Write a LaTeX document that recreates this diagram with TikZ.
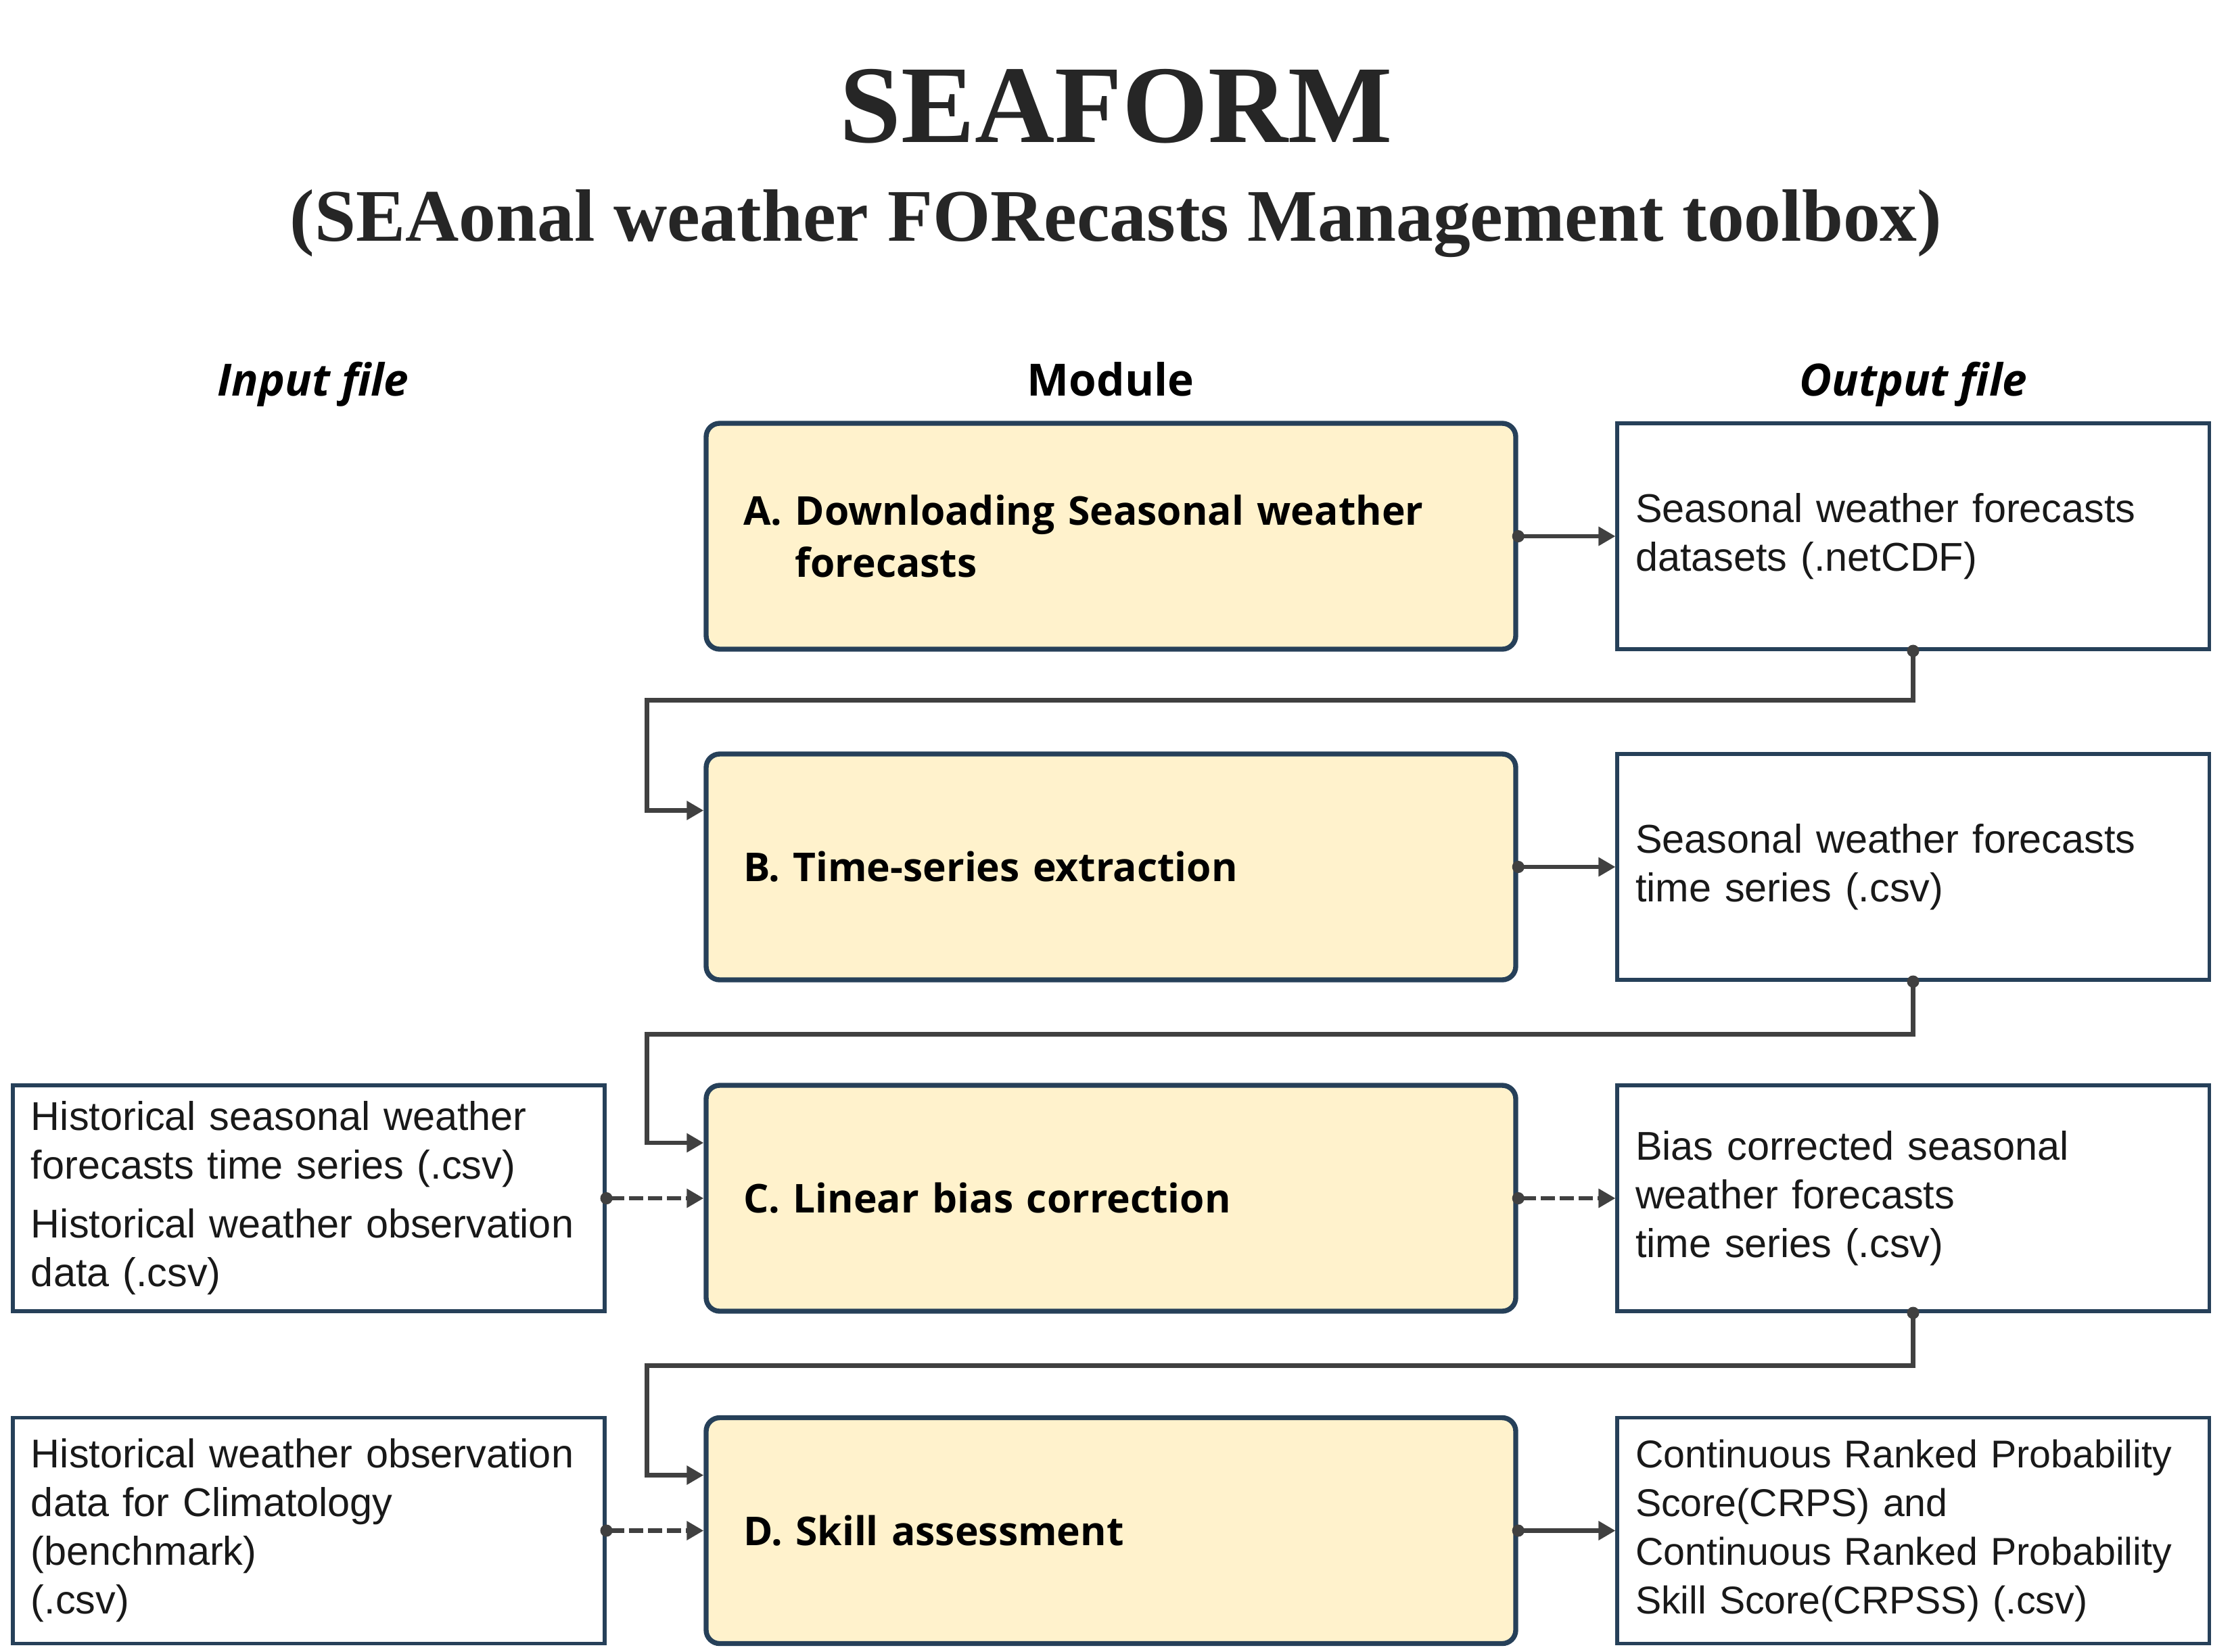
\documentclass[tikz,border=0pt]{standalone}
\usepackage{fontspec}
\setmainfont{Liberation Sans}
\newfontfamily\headfont{Liberation Serif}
\newfontfamily\modfont{Open Sans}
\usetikzlibrary{arrows.meta}

\definecolor{boxline}{RGB}{38,64,89}
\definecolor{modfill}{RGB}{255,242,204}
\definecolor{linkgray}{RGB}{64,64,64}
\definecolor{titlegray}{RGB}{38,38,38}

\tikzset{
  module/.style={draw=boxline, line width=2.1pt, fill=modfill, rounded corners=0.2cm,
    minimum height=3.34cm, text width=10.87cm, inner xsep=0.55cm, align=left,
    font=\modfont\bfseries\fontsize{16.7}{22}\selectfont},
  filebox/.style={draw=boxline, line width=1.45pt, fill=white, minimum height=3.34cm,
    text width=8.21cm, inner xsep=0.27cm, align=left, text=black!90,
    font=\fontsize{16.9}{20.5}\selectfont},
  colhead/.style={anchor=base, font=\modfont\bfseries\fontsize{18.7}{22}\selectfont},
  flow/.style={draw=linkgray, line width=1.85pt, shorten <=-0.09cm,
    {Circle[length=0.18cm,width=0.18cm]}-{Triangle[length=0.25cm,width=0.27cm]}},
  optional/.style={flow, dash pattern=on 0.21cm off 0.07cm}
}

\begin{document}
\begin{tikzpicture}
  \useasboundingbox (0,0) rectangle (33,-24.42);

  % title
  \node[anchor=base, text=titlegray, font=\headfont\bfseries\fontsize{46.5}{50}\selectfont] (title) at (16.5,-2.10) {SEAFORM};
  \node[anchor=base, text=titlegray, font=\headfont\bfseries\fontsize{31.2}{36}\selectfont] (subtitle) at (16.5,-3.56) {(SEAonal weather FORecasts Management toolbox)};

  % column heads
  \node[colhead] (hin) at (4.63,-5.85) {\itshape Input file};
  \node[colhead] (hmod) at (16.42,-5.85) {Module};
  \node[colhead] (hout) at (28.29,-5.85) {\itshape Output file};

  % modules
  \node[module] (A) at (16.425,-7.93) {A.~Downloading Seasonal weather\\\hphantom{A.~}forecasts};
  \node[module] (B) at (16.425,-12.82) {B. Time-series extraction};
  \node[module] (C) at (16.425,-17.72) {C. Linear bias correction};
  \node[module] (D) at (16.425,-22.635) {D. Skill assessment};

  % output files
  \node[filebox] (oA) at (28.285,-7.93) {Seasonal weather forecasts\\datasets (.netCDF)};
  \node[filebox] (oB) at (28.285,-12.82) {Seasonal weather forecasts\\time series (.csv)};
  \node[filebox] (oC) at (28.285,-17.72) {Bias corrected seasonal\\weather forecasts\\time series (.csv)};
  \node[filebox, font=\fontsize{16.3}{20.5}\selectfont] (oD) at (28.285,-22.635) {\mbox{Continuous Ranked Probability}\\Score(CRPS) and\\\mbox{Continuous Ranked Probability}\\Skill Score(CRPSS) (.csv)};

  % input files
  \node[filebox] (iC) at (4.565,-17.72) {Historical seasonal weather\\forecasts time series (.csv)\\[0.15cm]Historical weather observation\\data (.csv)};
  \node[filebox] (iD) at (4.565,-22.635) {Historical weather observation\\data for Climatology\\(benchmark)\\(.csv)};

  % links
  \draw[flow] (A.east) -- (oA.west);
  \draw[flow] (B.east) -- (oB.west);
  \draw[optional] (C.east) -- (oC.west);
  \draw[flow] (D.east) -- (oD.west);
  \draw[optional] (iC.east) -- (C.west);
  \draw[optional] (iD.east) -- (D.west);
  \draw[flow] (oA.south) -- ++(0,-0.73) -| ([xshift=-0.84cm,yshift=0.835cm]B.west) -- ([yshift=0.835cm]B.west);
  \draw[flow] (oB.south) -- ++(0,-0.78) -| ([xshift=-0.84cm,yshift=0.82cm]C.west) -- ([yshift=0.82cm]C.west);
  \draw[flow] (oC.south) -- ++(0,-0.78) -| ([xshift=-0.84cm,yshift=0.82cm]D.west) -- ([yshift=0.82cm]D.west);
\end{tikzpicture}
\end{document}
